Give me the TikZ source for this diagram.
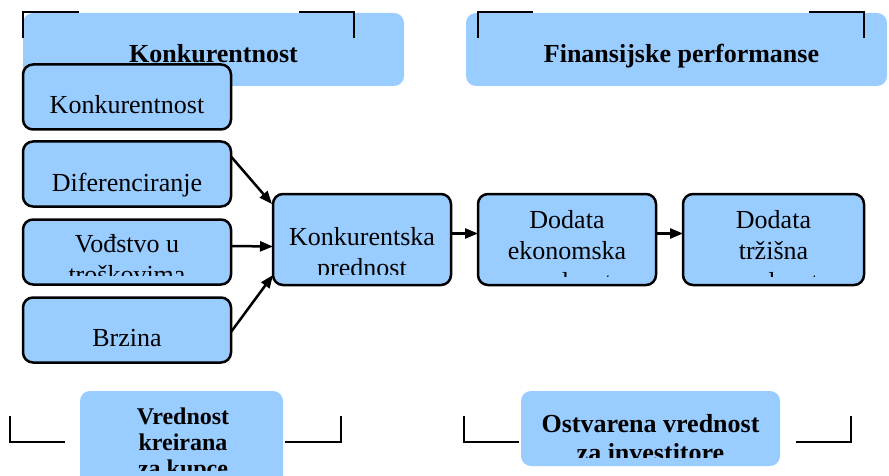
\documentclass[tikz,border=0pt]{standalone}
\usepackage{fontspec}
\setmainfont{Liberation Serif}
\usetikzlibrary{positioning,calc,arrows.meta}
\definecolor{paleblue}{RGB}{153,204,255}

\begin{document}
\begin{tikzpicture}[x=1pt, y=-1pt,
    band/.style={fill=paleblue, rounded corners=10pt, inner sep=0pt, outer sep=0pt},
    factor/.style={draw, line width=2.5pt, fill=paleblue, rounded corners=10pt, inner sep=0pt, outer sep=0pt, minimum width=208pt, minimum height=65pt},
    valuebox/.style={factor, minimum width=178pt, minimum height=91pt},
    plain/.style={font=\fontsize{26}{31}\selectfont, align=center, inner sep=0pt, anchor=base},
    heading/.style={plain, font=\bfseries\fontsize{26}{29}\selectfont},
    bracket/.style={line width=2.5pt},
    flow/.style={line width=2.5pt, -{Triangle[length=13pt,width=10pt]}}]

    \clip (0,0) rectangle (889,476);

    % gornje trake
    \node [band, minimum width=381pt, minimum height=73pt] (konkband) at (213.5,49.5) {};
    \node [band, minimum width=421pt, minimum height=73pt] (finband) at (676.5,49.5) {};
    \node [heading] (konktitle) at ($(konkband.north)+(0,50)$) {Konkurentnost};
    \node [heading] (fintitle) at ($(finband.north)+(5,50)$) {Finansijske performanse};
    \draw [bracket] (23,38) |- (79,12);
    \draw [bracket] (299,12) -| (354,38);
    \draw [bracket] (478,38) |- (533,12);
    \draw [bracket] (809,12) -| (864,38);

    % izvori konkurentnosti
    \node [factor] (konk) at (127,97) {};
    \node [factor, below=12pt of konk] (dif) {};
    \node [factor, below=13pt of dif] (vod) {};
    \node [factor, below=13pt of vod] (brz) {};
    \node [plain] (konktxt) at ($(konk.north)+(0,49)$) {Konkurentnost};
    \node [plain] (diftxt) at ($(dif.north)+(0,50)$) {Diferenciranje};
    \begin{scope}
        \clip (vod.north west) rectangle ($(vod.south east)+(0,-9)$);
        \node [plain] (vodtxt) at ($(vod.north)+(0,64)$) {Vođstvo u\\troškovima};
    \end{scope}
    \node [plain] (brztxt) at ($(brz.north)+(0,49)$) {Brzina};

    % lanac vrednosti
    \node [valuebox] (kp) at (362,239.5) {};
    \node [valuebox, right=27pt of kp] (eko) {};
    \node [valuebox, right=27pt of eko, minimum width=181pt] (trz) {};
    \begin{scope}
        \clip (kp.north west) rectangle ($(kp.south east)+(0,-11)$);
        \node [plain] (kptxt) at ($(kp.north)+(0,82)$) {Konkurentska\\prednost};
    \end{scope}
    \begin{scope}
        \clip (eko.north west) rectangle ($(eko.south east)+(0,-9)$);
        \node [plain] (ekotxt) at ($(eko.north)+(0,96)$) {Dodata\\ekonomska\\vrednost};
    \end{scope}
    \begin{scope}
        \clip (trz.north west) rectangle ($(trz.south east)+(0,-9)$);
        \node [plain] (trztxt) at ($(trz.north)+(0,96)$) {Dodata\\tržišna\\vrednost};
    \end{scope}

    \draw [flow] ($(dif.north east)+(0,15)$) -- ($(kp.north west)+(-1,10)$);
    \draw [flow] ($(vod.east)+(0,-6)$) -- ($(kp.west)+(0,7)$);
    \draw [flow] ($(brz.east)+(0,2)$) -- ($(kp.south west)+(0,-10)$);
    \draw [flow] ($(kp.east)+(0,-6)$) -- ($(eko.west)+(0,-6)$);
    \draw [flow] ($(eko.east)+(0,-6)$) -- ($(trz.west)+(0,-6)$);

    % donje trake
    \node [band, minimum width=203pt, minimum height=100pt] (kupci) at (181.5,441) {};
    \node [band, minimum width=259pt, minimum height=75pt] (inv) at (650.5,428.5) {};
    \draw [bracket] (10,416) |- (65,442);
    \draw [bracket] (285,442) -| (341,416);
    \draw [bracket] (464,416) |- (519,442);
    \draw [bracket] (796,442) -| (851,416);
    \begin{scope}
        \clip (kupci.north west) rectangle ($(kupci.north east)+(0,79)$);
        \node [heading, font=\bfseries\fontsize{24}{26}\selectfont] (kupcitxt) at ($(kupci.north)+(1.5,85)$) {Vrednost\\kreirana\\za kupce};
    \end{scope}
    \begin{scope}
        \clip (inv.north west) rectangle ($(inv.south east)+(0,-9)$);
        \node [heading, font=\bfseries\fontsize{26}{29}\selectfont] (invtxt) at ($(inv.north)+(0,70)$) {Ostvarena vrednost\\za investitore};
    \end{scope}

\end{tikzpicture}
\end{document}
